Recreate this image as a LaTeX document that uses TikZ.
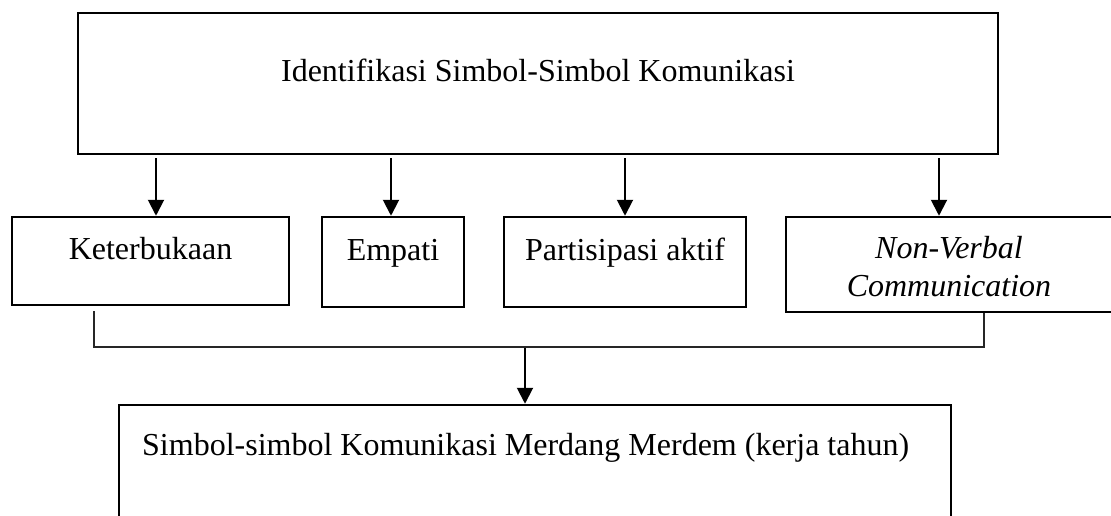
\documentclass[tikz,border=0pt]{standalone}
\usepackage{fontspec}
\setmainfont{Liberation Serif}
\usetikzlibrary{arrows.meta,calc}
\begin{document}
\begin{tikzpicture}[x=1pt,y=-1pt,
  box/.style={draw,line width=2.5pt,rectangle,inner sep=0pt},
  lbl/.style={anchor=base,inner sep=0pt,font=\fontsize{32}{38}\selectfont},
  arr/.style={line width=2pt,-{Triangle[length=16pt,width=16pt]},shorten <=3pt},
  thin/.style={line width=1.1pt,draw=black!85}]
\useasboundingbox (0,0) rectangle (1111,516);
% boxes
\node[box,minimum width=920pt,minimum height=141pt] (top) at (538,83.5) {};
\node[lbl] (toptxt) at (538,82) {Identifikasi Simbol-Simbol Komunikasi};
\node[box,minimum width=277pt,minimum height=88pt] (k) at (150.5,261) {};
\node[lbl] (ktxt) at (150.5,259) {Keterbukaan};
\node[box,minimum width=142pt,minimum height=90pt] (e) at (393,262) {};
\node[lbl] (etxt) at (393,260) {Empati};
\node[box,minimum width=242pt,minimum height=90pt] (p) at (625,262) {};
\node[lbl] (ptxt) at (625,260) {Partisipasi aktif};
\node[box,minimum width=326pt,minimum height=95pt] (n) at (949,264.5) {};
\node[lbl] (ntxt1) at (949,258) {\itshape Non-Verbal};
\node[lbl] (ntxt2) at (949,296) {\itshape Communication};
\node[box,minimum width=832pt,minimum height=155pt] (b) at (535,482.5) {};
\node[lbl,anchor=base west] (btxt) at (142,455) {Simbol-simbol Komunikasi Merdang Merdem (kerja tahun)};
% arrows from top box
\draw[arr] ([xshift=5.5pt]k.north |- top.south) -- ([xshift=5.5pt]k.north);
\draw[arr] ([xshift=-2pt]e.north |- top.south) -- ([xshift=-2pt]e.north);
\draw[arr] (p.north |- top.south) -- (p.north);
\draw[arr] ([xshift=-10pt]n.north |- top.south) -- ([xshift=-10pt]n.north);
% collecting connector
\coordinate (kl) at ([xshift=-56.5pt,yshift=-5pt]k.south);
\coordinate (nl) at ([xshift=35pt]n.south);
\coordinate (junc) at (525,347);
\draw[thin] (kl) -- (kl |- junc) -- (nl |- junc) -- (nl);
\draw[arr,shorten <=1pt] (junc) -- (junc |- b.north);
\end{tikzpicture}
\end{document}
